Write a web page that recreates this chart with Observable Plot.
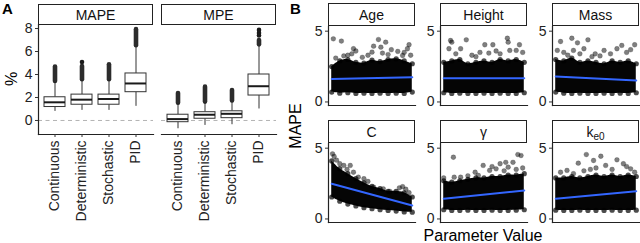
<!DOCTYPE html>
<html><head><meta charset="utf-8">
<script src="https://cdn.jsdelivr.net/npm/d3@7"></script>
<script src="https://cdn.jsdelivr.net/npm/@observablehq/plot@0.6"></script>
<style>
body{margin:0;background:#fff;}
#root{position:relative;width:640px;height:243px;overflow:hidden;font-family:"Liberation Sans",Arial,Helvetica,sans-serif;color:#111;}
.abs{position:absolute;}
.abs svg{overflow:visible;display:block;}
.strip{position:absolute;box-sizing:border-box;border:1.2px solid #222;background:#fff;font-size:14px;text-align:center;color:#111;display:flex;align-items:center;justify-content:center;}
.strip sub{font-size:10px;vertical-align:-3px;line-height:0;}
.tag{position:absolute;font-weight:bold;font-size:15px;color:#000;}
.rot{position:absolute;transform:translate(-50%,-50%) rotate(-90deg);white-space:nowrap;font-size:16px;color:#000;}
.xt{position:absolute;transform:translate(-50%,-50%);white-space:nowrap;font-size:16px;color:#000;}
</style></head>
<body><div id="root"></div>
<script>
// ---------- Panel A data: boxplot statistics ----------
const methods = ["Continuous","Deterministic","Stochastic","PID"];
const mapeLow = [0.79,0.88,0.88,1.23];
const mapeQ1 = [1.17,1.37,1.37,2.46];
const mapeMedian = [1.58,1.81,1.87,3.22];
const mapeQ3 = [2.02,2.25,2.25,4.09];
const mapeHigh = [3.3,3.5,3.5,6.4];
const mapeOutFrom = [3.4,3.55,3.55,6.5];
const mapeOutTo = [4.65,4.7,4.85,7.9];
const mapeOutlierMethods = ["Deterministic"];
const mapeOutlierValues = [5.08];

const mpeLow = [-0.72,-0.43,-0.37,1.0];
const mpeQ1 = [-0.15,0.15,0.2,2.17];
const mpeMedian = [0.12,0.5,0.58,2.98];
const mpeQ3 = [0.5,0.72,0.8,4.0];
const mpeHigh = [1.45,1.55,1.6,6.45];
const mpeOutFrom = [1.5,1.6,1.7,6.58];
const mpeOutTo = [2.35,2.9,2.6,6.95];
const mpeOutlierMethods = ["PID","PID","PID"];
const mpeOutlierValues = [7.4,7.62,7.88];
const percentTicks = [0,2,4,6,8];

// ---------- Panel B data: parameter value (scaled 0-1) vs MAPE ----------
const paramNames = ["Age","Height","Mass","C","γ","ke0"];
const cloudX = [0,0.1,0.2,0.3,0.4,0.5,0.6,0.7,0.8,0.9,1];

const ageHigh = [2.5,2.9,3.0,2.8,2.75,2.95,2.85,3.0,3.05,2.9,2.7];
const ageLow = [0.7,0.62,0.65,0.6,0.62,0.6,0.62,0.6,0.62,0.6,0.7];
const ageDots = [[0.02,4.46],[0.12,4.3],[0.58,4.41],[0.67,4.22],[0.52,3.94],[0.61,3.87],[0.96,4.04],[0.94,3.76],[0.27,3.76],[0.25,3.4],[0.74,3.69],[0.82,3.57],[0.88,3.28],[0.5,3.52],[0.3,3.6],[0.45,3.3],[0.7,3.35],[0.05,3.1],[0.15,3.25],[0.38,3.15],[0.63,3.45],[0.9,3.5],[0.98,3.3],[0.2,3.3]];
const ageFit = [1.62,1.75];

const heightHigh = [2.8,2.9,3.0,2.7,2.8,2.9,2.8,3.0,2.9,3.0,2.8];
const heightLow = [0.65,0.6,0.62,0.6,0.6,0.62,0.6,0.62,0.6,0.6,0.65];
const heightDots = [[0.085,4.34],[0.065,3.76],[0.28,4.39],[0.51,4.04],[0.61,4.04],[0.79,4.5],[0.8,4.22],[0.94,4.04],[0.56,3.45],[0.1,4.22],[0.21,3.76],[0.82,3.64],[0.9,3.64],[0.35,3.3],[0.45,3.5],[0.7,3.4],[0.98,3.5],[0.15,3.4],[0.65,3.6],[0.4,3.2]];
const heightFit = [1.68,1.68];

const massHigh = [3.0,2.9,3.1,2.8,2.9,2.8,2.7,2.9,2.8,2.9,2.7];
const massLow = [0.7,0.62,0.6,0.62,0.6,0.6,0.62,0.6,0.62,0.6,0.65];
const massDots = [[0.06,4.27],[0.2,4.5],[0.27,4.18],[0.4,4.39],[0.02,3.64],[0.22,3.64],[0.35,3.76],[0.76,3.76],[0.82,3.99],[0.98,4.04],[0.93,3.69],[0.6,3.64],[0.49,3.4],[0.1,3.5],[0.3,3.4],[0.68,3.4],[0.88,3.5],[0.55,3.25],[0.15,3.3],[0.45,3.2]];
const massFit = [1.8,1.52];

const cHigh = [4.1,3.55,3.2,2.85,2.55,2.3,2.15,1.95,1.95,1.85,1.55];
const cLow = [1.55,1.25,1.05,0.92,0.8,0.72,0.65,0.6,0.56,0.5,0.48];
const cDots = [[0.01,4.6],[0.03,4.42],[0.06,4.15],[0.1,3.9],[0.15,3.78],[0.23,3.78],[0.19,3.5],[0.27,3.3],[0.33,2.95],[0.4,2.84],[0.45,2.65],[0.52,2.25],[0.64,2.13],[0.72,1.95],[0.84,2.2],[0.88,2.28],[0.92,2.1],[0.96,1.85]];
const cFit = [2.49,0.95];

const gammaHigh = [2.7,2.6,2.7,2.8,2.9,2.9,3.0,3.0,3.1,3.1,3.2];
const gammaLow = [0.65,0.6,0.6,0.62,0.6,0.6,0.62,0.6,0.6,0.62,0.65];
const gammaDots = [[0.12,4.36],[0.0,2.9],[0.13,2.95],[0.92,4.55],[0.96,4.48],[0.86,4.0],[0.77,4.0],[0.7,3.9],[0.49,3.78],[0.57,3.43],[0.39,3.3],[0.43,3.07],[0.21,2.95],[0.65,3.54],[0.8,3.66],[0.9,3.5],[0.98,3.6],[0.6,3.7],[0.3,3.05],[0.75,3.4]];
const gammaFit = [1.43,2.01];

const keHigh = [2.9,2.9,3.0,2.9,3.0,3.1,3.0,3.1,3.0,3.1,3.0];
const keLow = [0.62,0.6,0.6,0.62,0.6,0.6,0.6,0.62,0.6,0.6,0.62];
const keDots = [[0.38,4.55],[0.56,4.43],[0.47,4.13],[0.28,3.94],[0.76,4.18],[0.84,3.9],[0.62,3.78],[0.06,3.3],[0.14,3.43],[0.93,3.54],[0.5,3.6],[0.7,3.5],[0.35,3.4],[0.22,3.2],[0.88,3.7],[0.98,3.3],[0.43,3.5]];
const keFit = [1.43,1.96];
const mapeTicks = [0,5];

// ---------- layout ----------
const root = document.getElementById("root");
function place(node, left, top){
  const d = document.createElement("div");
  d.className = "abs"; d.style.left = left+"px"; d.style.top = top+"px";
  d.appendChild(node); root.appendChild(d); return d;
}
function html(cls, left, top, w, h, inner){
  const d = document.createElement("div");
  d.className = cls; d.style.left = left+"px"; d.style.top = top+"px";
  if (w != null) d.style.width = w+"px";
  if (h != null) d.style.height = h+"px";
  d.innerHTML = inner; root.appendChild(d); return d;
}
const FONT = '"Liberation Sans", Arial, Helvetica, sans-serif';

function boxPanel(low,q1,med,q3,high,outFrom,outTo,outM,outV,showY,left,width,marginLeft){
  const rows = methods.map((m,i)=>({m,low:low[i],q1:q1[i],med:med[i],q3:q3[i],high:high[i],of:outFrom[i],ot:outTo[i]}));
  const singles = outM.map((m,i)=>({m,v:outV[i]}));
  const marks = [
    Plot.ruleY([0],{stroke:"#b3b3b3",strokeDasharray:"4,3.5",strokeWidth:1}),
    Plot.ruleX(rows,{x:"m",y1:"low",y2:"q1",stroke:"#333",strokeWidth:1}),
    Plot.ruleX(rows,{x:"m",y1:"q3",y2:"high",stroke:"#333",strokeWidth:1}),
    Plot.ruleX(rows,{x:"m",y1:"of",y2:"ot",stroke:"#1a1a1a",strokeOpacity:0.92,strokeWidth:4.6,strokeLinecap:"round"}),
    Plot.dot(singles,{x:"m",y:"v",r:2.3,fill:"#1a1a1a",stroke:"none"}),
    Plot.barY(rows,{x:"m",y1:"q1",y2:"q3",fill:"#fff",stroke:"#333",strokeWidth:1}),
    Plot.tickY(rows,{x:"m",y:"med",stroke:"#1a1a1a",strokeWidth:2}),
    Plot.frame({anchor:"bottom",stroke:"#222",strokeWidth:1.2}),
    Plot.axisX({tickRotate:-90,tickSize:3,tickPadding:3,fontSize:14,stroke:"#333",color:"#222",label:null})
  ];
  if (showY){
    marks.push(Plot.frame({anchor:"left",stroke:"#222",strokeWidth:1.2}));
    marks.push(Plot.axisY({ticks:percentTicks,tickFormat:d=>String(d),tickSize:3,tickPadding:3,fontSize:14,stroke:"#333",color:"#222",label:null}));
  }
  const svg = Plot.plot({
    width: marginLeft+width+2, height: 243,
    marginLeft, marginRight: 2, marginTop: 24, marginBottom: 109,
    style:{fontFamily:FONT,background:"transparent",overflow:"visible"},
    x:{type:"band",domain:methods,padding:0.22,label:null},
    y:{domain:[-1.22,8.35],label:null,axis:showY?undefined:null},
    marks
  });
  place(svg, left-marginLeft, 0);
}
boxPanel(mapeLow,mapeQ1,mapeMedian,mapeQ3,mapeHigh,mapeOutFrom,mapeOutTo,mapeOutlierMethods,mapeOutlierValues,true,38,115,38);
boxPanel(mpeLow,mpeQ1,mpeMedian,mpeQ3,mpeHigh,mpeOutFrom,mpeOutTo,mpeOutlierMethods,mpeOutlierValues,false,161,115,2);

html("strip",38,4,115,21,"<span>MAPE</span>");
html("strip",161,4,115,21,"<span>MPE</span>");
html("tag",2,0,null,null,"A");
html("rot",12,79,null,null,"%");

// ---------- Panel B ----------
const colLeft = [328,440,552];
const rowTop = [26,143];
const stripTop = [3,120];
const panelW = 87, panelH = 79;
const panels = [
  [ageLow,ageHigh,ageDots,ageFit,"Age"],
  [heightLow,heightHigh,heightDots,heightFit,"Height"],
  [massLow,massHigh,massDots,massFit,"Mass"],
  [cLow,cHigh,cDots,cFit,"C"],
  [gammaLow,gammaHigh,gammaDots,gammaFit,"γ"],
  [keLow,keHigh,keDots,keFit,"k<sub>e0</sub>"]
];
panels.forEach(([lo,hi,dots,fit,label],i)=>{
  const r = Math.floor(i/3), c = i%3;
  const band = cloudX.map((x,j)=>({x,lo:lo[j],hi:hi[j]}));
  const pts = dots.map(([x,y])=>({x,y}));
  const line = [{x:0,y:fit[0]},{x:1,y:fit[1]}];
  const ml = 30, mt = 4, mb = 2;
  const svg = Plot.plot({
    width: ml+panelW, height: mt+panelH+mb,
    marginLeft: ml, marginRight: 0, marginTop: mt, marginBottom: mb,
    style:{fontFamily:FONT,background:"transparent",overflow:"visible"},
    x:{domain:[-0.04,1.04],axis:null},
    y:{domain:[-0.25,5.33],label:null},
    marks:[
      Plot.areaY(band,{x:"x",y1:"lo",y2:"hi",fill:"#050505",curve:"catmull-rom"}),
      Plot.dot(band,{x:"x",y:"hi",r:2.6,fill:"#000",fillOpacity:0.7,stroke:"none"}),
      Plot.dot(band,{x:"x",y:"lo",r:2.6,fill:"#000",fillOpacity:0.7,stroke:"none"}),
      Plot.dot(pts,{x:"x",y:"y",r:2.4,fill:"#000",fillOpacity:0.5,stroke:"#000",strokeOpacity:0.3,strokeWidth:0.6}),
      Plot.line(line,{x:"x",y:"y",stroke:"#3366FF",strokeWidth:2}),
      Plot.frame({anchor:"left",stroke:"#222",strokeWidth:1.2}),
      Plot.frame({anchor:"bottom",stroke:"#222",strokeWidth:1.2}),
      Plot.axisY({ticks:mapeTicks,tickFormat:d=>String(d),tickSize:3,tickPadding:3,fontSize:14,stroke:"#333",color:"#222",label:null})
    ]
  });
  place(svg, colLeft[c]-ml, rowTop[r]-mt);
  html("strip",colLeft[c],stripTop[r],panelW,23,"<span>"+label+"</span>");
});
html("tag",290,0,null,null,"B");
html("rot",296,126,null,null,"MAPE");
html("xt",483,236,null,null,"Parameter Value");
</script>
</body></html>
